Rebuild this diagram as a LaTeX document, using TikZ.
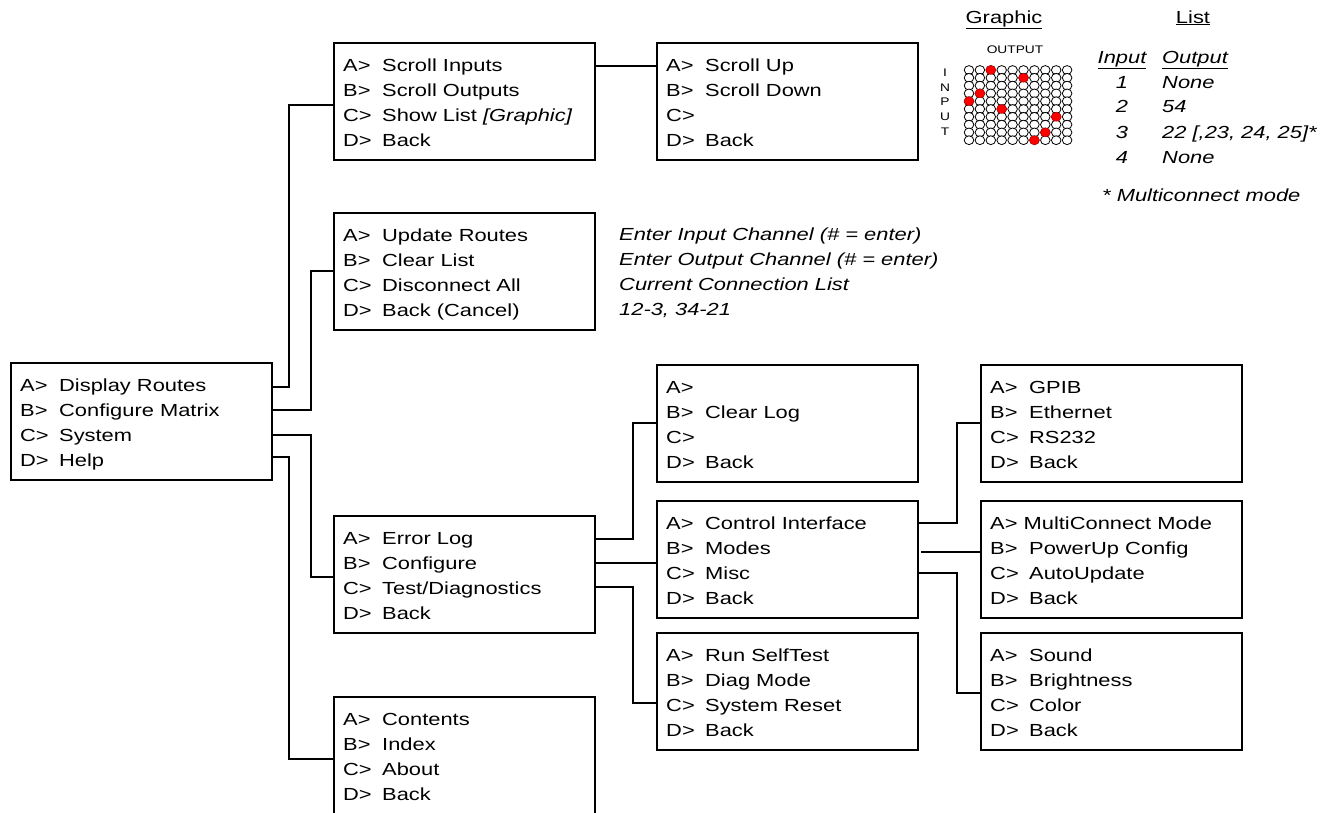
\documentclass[tikz,border=0pt]{standalone}
\usepackage{fontspec}
\setmainfont{Liberation Sans}[FakeStretch=1.25]
\usetikzlibrary{calc}
\newcommand{\mainsize}{\fontsize{17.5}{25}\selectfont}
\newcommand{\smallsize}{\fontsize{11}{14}\selectfont}
\newcommand{\rk}[1]{\makebox[39pt][l]{#1}}
\newcommand{\menubox}[7]{%
  \node[menubox, anchor=north west] (#1) at (#2,#3) {};
  \node[rowtext] (#1-a) at ($(#1.north west)+(9,28)$) {#4};
  \node[rowtext] (#1-b) at ($(#1.north west)+(9,53)$) {#5};
  \node[rowtext] (#1-c) at ($(#1.north west)+(9,78)$) {#6};
  \node[rowtext] (#1-d) at ($(#1.north west)+(9,103)$) {#7};
}
\tikzset{
  menubox/.style={draw=black, line width=1.4pt, minimum width=261pt, minimum height=117pt, inner sep=0pt, outer sep=0pt},
  rowtext/.style={anchor=base west, inner sep=0pt, font=\mainsize},
  note/.style={anchor=base west, inner sep=0pt, font=\mainsize\itshape},
  conn/.style={line width=1.3pt, line join=miter},
  smalltext/.style={inner sep=0pt, font=\smallsize},
  hole/.style={draw=black, line width=0.8pt, fill=white},
  dot/.style={draw=red!85!black, line width=0.6pt, fill=red},
}
\begin{document}
\begin{tikzpicture}[x=1pt, y=-1pt]
\useasboundingbox (0,0) rectangle (1333,812);

% menu boxes
\menubox{main}{11}{363}{\rk{A>}Display Routes}{\rk{B>}Configure Matrix}{\rk{C>}System}{\rk{D>}Help}
\menubox{scroll}{334}{43}{\rk{A>}Scroll Inputs}{\rk{B>}Scroll Outputs}{\rk{C>}Show List \textit{[Graphic]}}{\rk{D>}Back}
\menubox{scrollup}{657}{43}{\rk{A>}Scroll Up}{\rk{B>}Scroll Down}{\rk{C>}}{\rk{D>}Back}
\menubox{update}{334}{213}{\rk{A>}Update Routes}{\rk{B>}Clear List}{\rk{C>}Disconnect All}{\rk{D>}Back (Cancel)}
\menubox{errlog}{334}{516}{\rk{A>}Error Log}{\rk{B>}Configure}{\rk{C>}Test/Diagnostics}{\rk{D>}Back}
\menubox{help}{334}{697}{\rk{A>}Contents}{\rk{B>}Index}{\rk{C>}About}{\rk{D>}Back}
\menubox{clearlog}{657}{365}{\rk{A>}}{\rk{B>}Clear Log}{\rk{C>}}{\rk{D>}Back}
\menubox{control}{657}{501}{\rk{A>}Control Interface}{\rk{B>}Modes}{\rk{C>}Misc}{\rk{D>}Back}
\menubox{selftest}{657}{633}{\rk{A>}Run SelfTest}{\rk{B>}Diag Mode}{\rk{C>}System Reset}{\rk{D>}Back}
\menubox{gpib}{981}{365}{\rk{A>}GPIB}{\rk{B>}Ethernet}{\rk{C>}RS232}{\rk{D>}Back}
\menubox{multi}{981}{501}{A> MultiConnect Mode}{\rk{B>}PowerUp Config}{\rk{C>}AutoUpdate}{\rk{D>}Back}
\menubox{sound}{981}{633}{\rk{A>}Sound}{\rk{B>}Brightness}{\rk{C>}Color}{\rk{D>}Back}

% connectors
\draw[conn] ($(main.north east)+(0,24)$) -| ($(scroll.north west)+(-45,62)$) -- ($(scroll.north west)+(0,62)$);
\draw[conn] ($(main.north east)+(0,47)$) -| ($(update.north west)+(-23,58)$) -- ($(update.north west)+(0,58)$);
\draw[conn] ($(main.north east)+(0,72)$) -| ($(errlog.north west)+(-23,61)$) -- ($(errlog.north west)+(0,61)$);
\draw[conn] ($(main.north east)+(0,94)$) -| ($(help.north west)+(-45,62)$) -- ($(help.north west)+(0,62)$);
\draw[conn] ($(scroll.north east)+(0,23)$) -- ($(scrollup.north west)+(0,23)$);
\draw[conn] ($(errlog.north east)+(0,23)$) -| ($(clearlog.north west)+(-24,58)$) -- ($(clearlog.north west)+(0,58)$);
\draw[conn] ($(errlog.north east)+(0,47)$) -- ($(control.north west)+(0,62)$);
\draw[conn] ($(errlog.north east)+(0,71)$) -| ($(selftest.north west)+(-24,70)$) -- ($(selftest.north west)+(0,70)$);
\draw[conn] ($(control.north east)+(0,22)$) -| ($(gpib.north west)+(-24,58)$) -- ($(gpib.north west)+(0,58)$);
\draw[conn] ($(control.north east)+(3,51)$) -- ($(multi.north west)+(0,51)$);
\draw[conn] ($(control.north east)+(0,72)$) -| ($(sound.north west)+(-24,60)$) -- ($(sound.north west)+(0,60)$);

% notes beside update box
\node[note] (n1) at (619,240) {Enter Input Channel (\# = enter)};
\node[note] (n2) at (619,265) {Enter Output Channel (\# = enter)};
\node[note] (n3) at (619,290) {Current Connection List};
\node[note] (n4) at (619,315) {12-3, 34-21};

% top right: graphic
\node[rowtext, anchor=base] (ghead) at (1004,23) {\underline{Graphic}};
\node[rowtext, anchor=base] (lhead) at (1193,23) {\underline{List}};
\node[smalltext] (outlbl) at (1015,50) {OUTPUT};
\foreach \l/\yy [count=\i] in {I/73,N/87.6,P/102.2,U/116.8,T/131.4}
  \node[smalltext] (inp\i) at (945,\yy) {\l};
\foreach \r in {0,...,9}
  \foreach \c in {0,...,9}
    \draw[hole] ({969+10.9*\c},{70+7.8*\r}) ellipse [x radius=4.8, y radius=4.4];
\foreach \c/\r in {2/0,5/1,1/3,0/4,3/5,8/6,7/8,6/9}
  \draw[dot] ({969+10.9*\c},{70+7.8*\r}) ellipse [x radius=4.8, y radius=4.4];

% top right: list
\node[note, anchor=base] (tin) at (1122,63) {\underline{Input}};
\node[note] (tout) at (1162,63) {\underline{Output}};
\node[note, anchor=base] (i1) at (1122,88) {1};
\node[note] (o1) at (1162,88) {None};
\node[note, anchor=base] (i2) at (1122,112) {2};
\node[note] (o2) at (1162,112) {54};
\node[note, anchor=base] (i3) at (1122,138) {3};
\node[note] (o3) at (1162,138) {22 [,23, 24, 25]*};
\node[note, anchor=base] (i4) at (1122,163) {4};
\node[note] (o4) at (1162,163) {None};
\node[note] (mcm) at (1102,201) {* Multiconnect mode};
\end{tikzpicture}
\end{document}
